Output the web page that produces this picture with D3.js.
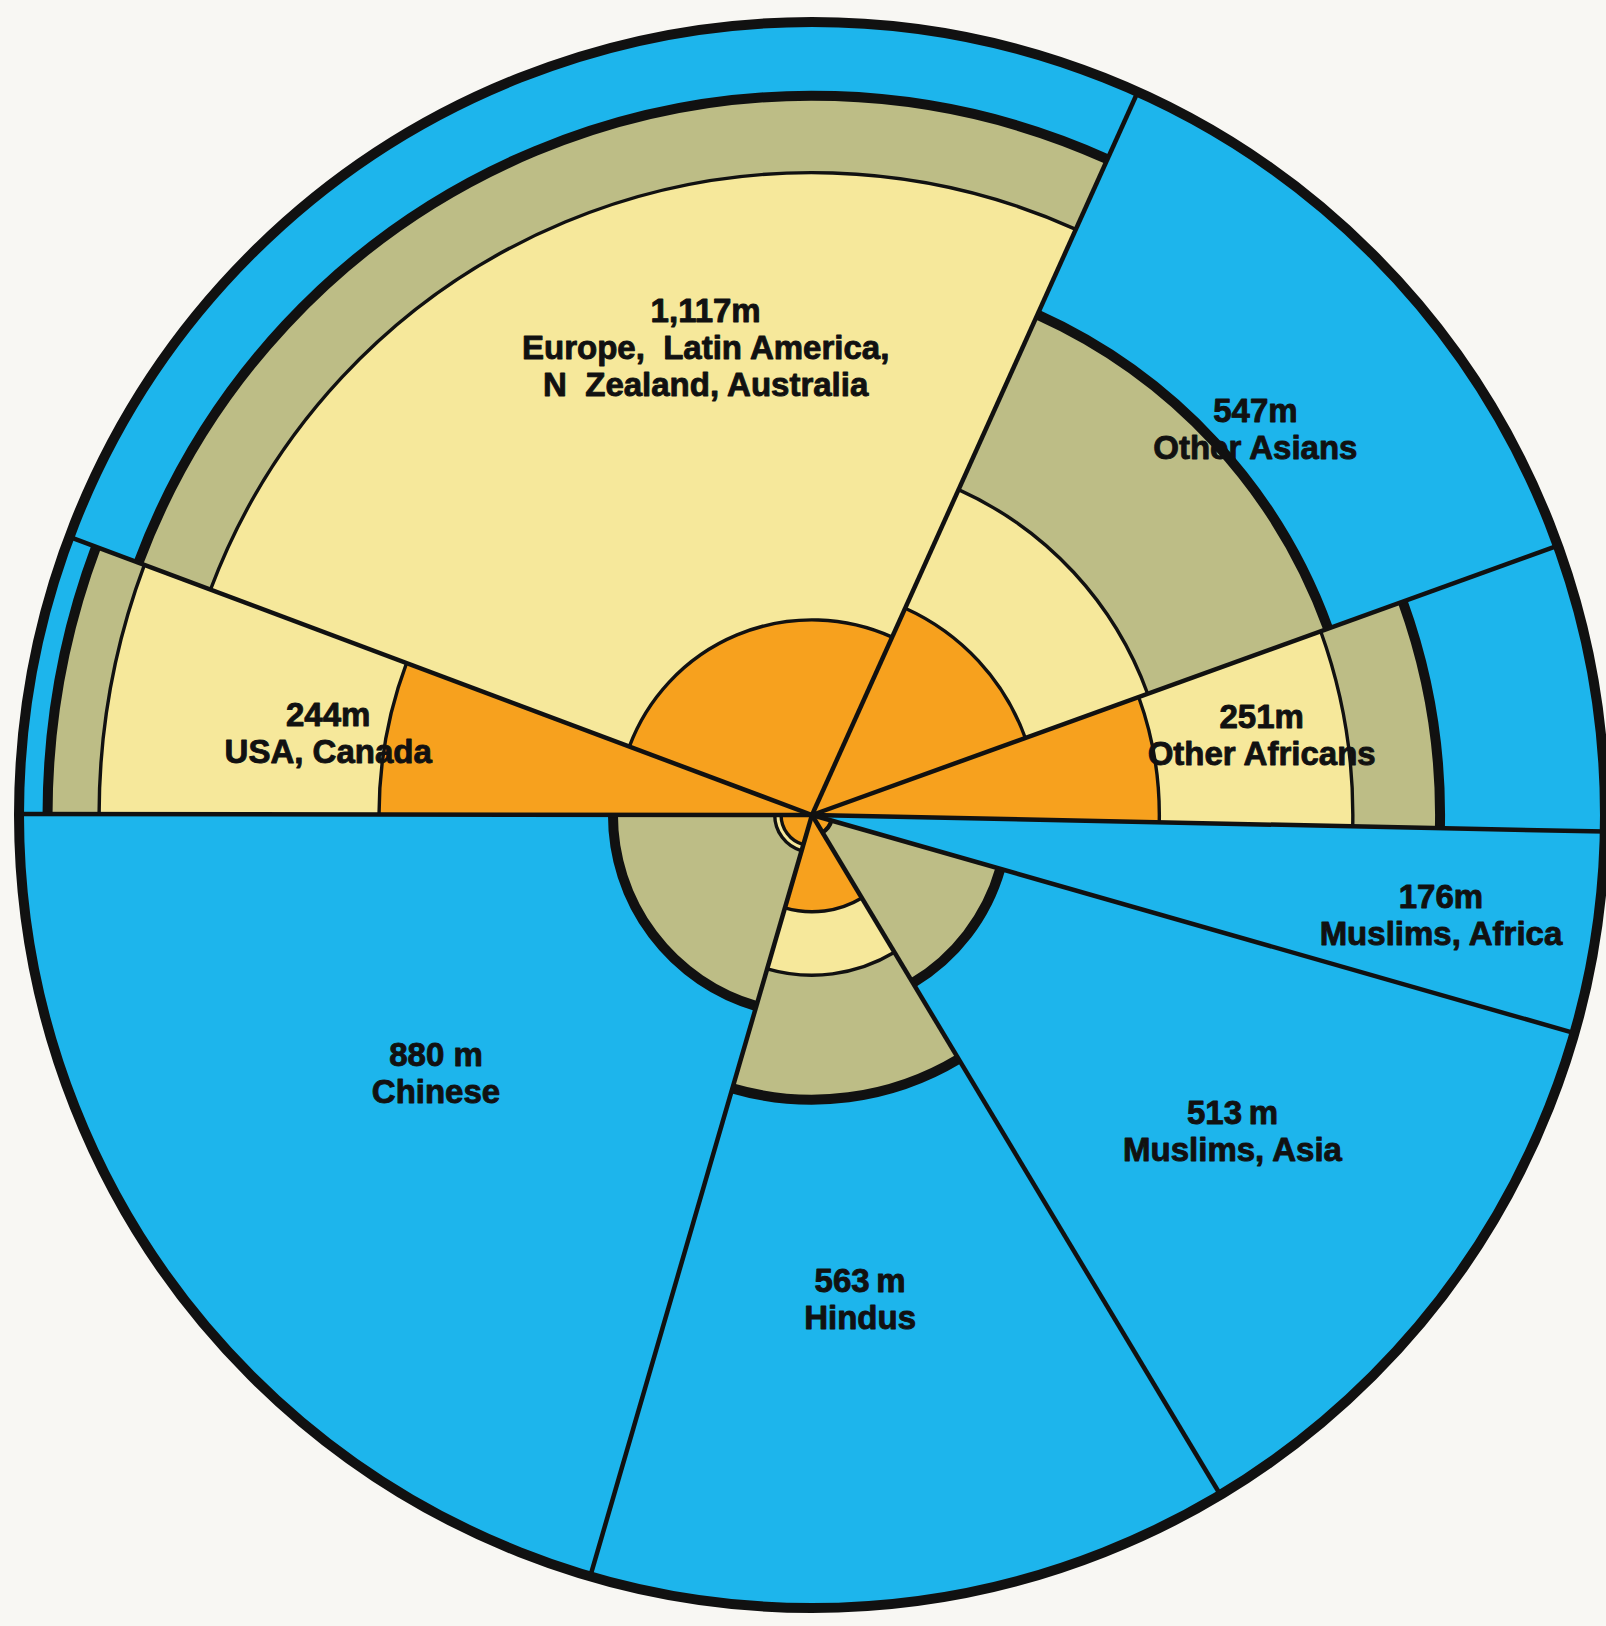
<!DOCTYPE html>
<html>
<head>
<meta charset="utf-8">
<script src="https://cdn.jsdelivr.net/npm/d3@7"></script>
<style>
  html, body { margin: 0; padding: 0; background: #f8f7f3; }
  svg { display: block; }
</style>
</head>
<body>
<svg id="chart" width="1606" height="1626"></svg>
<script>
// ---------------- DATA ----------------
// Groups in clockwise order, starting just below "east"
const groups = ["Muslims, Africa", "Muslims, Asia", "Hindus", "Chinese",
                "USA, Canada", "Europe, Latin America, N Zealand, Australia",
                "Other Asians", "Other Africans"];
// Population (millions) -> wedge angle
const population = [176, 513, 563, 880, 244, 1117, 547, 251];
// Value labels as printed
const valueLabels = ["176m", "513\u2009m", "563\u2009m", "880 m", "244m", "1,117m", "547m", "251m"];
// Name labels split into printed lines
const nameLines = [["Muslims, Africa"], ["Muslims, Asia"], ["Hindus"], ["Chinese"],
                   ["USA, Canada"], ["Europe,  Latin America,", "N  Zealand, Australia"],
                   ["Other Asians"], ["Other Africans"]];
// Outer edge of each radial band, in % of full radius (cumulative from centre)
const orangeEdge = [0, 2.5, 12.2, 3.9, 54.6, 24.6, 28.6, 43.8];
const yellowEdge = [0, 2.6, 20.2, 4.7, 89.9, 81.0, 45.0, 68.2];
const oliveEdge  = [0, 24.7, 35.9, 25.1, 96.4, 90.7, 69.2, 79.2];
// (beyond the olive edge every wedge is blue out to 100%)

// ---------------- LAYOUT / STYLE ----------------
const cx = 812, cy = 815, R = 793;
const startDeg = 91.2;
const colors = { orange: "#f7a11e", yellow: "#f6e89b", olive: "#bdbd86", blue: "#1db5ec", ink: "#111111" };
// label placement: angular nudge (deg) from wedge mid-angle, radius in % of R
const labelNudgeDeg = [0.4, -0.6, 1.7, 2.4, -0.6, 9.8, 1.7, -0.8];
const labelRadiusPct = [80.3, 66.3, 61.3, 57.5, 61.9, 60.5, 74.2, 57.6];

const toRad = d => d * Math.PI / 180;
const svg = d3.select("#chart");
svg.append("rect").attr("width", 1606).attr("height", 1626).attr("fill", "#f8f7f3");
const g = svg.append("g").attr("transform", `translate(${cx},${cy})`);

const rScale = d3.scaleLinear().domain([0, 100]).range([0, R]);

const rows = groups.map((name, i) => ({
  name, pop: population[i], value: valueLabels[i], lines: nameLines[i],
  orange: orangeEdge[i], yellow: yellowEdge[i], olive: oliveEdge[i],
  nudge: labelNudgeDeg[i], lr: labelRadiusPct[i]
}));

const pie = d3.pie().sort(null).value(d => d.pop)
  .startAngle(toRad(startDeg)).endAngle(toRad(startDeg + 360));
const slices = pie(rows);

const arc = d3.arc();

// band fills
const bandDefs = [
  { key: "orange", inner: d => 0, outer: d => d.data.orange },
  { key: "yellow", inner: d => d.data.orange, outer: d => d.data.yellow },
  { key: "olive",  inner: d => d.data.yellow, outer: d => d.data.olive },
  { key: "blue",   inner: d => d.data.olive,  outer: d => 100 }
];
bandDefs.forEach(b => {
  g.append("g").selectAll("path").data(slices.filter(d => b.outer(d) > b.inner(d))).join("path")
    .attr("d", d => arc({ startAngle: d.startAngle, endAngle: d.endAngle,
                          innerRadius: rScale(b.inner(d)), outerRadius: rScale(b.outer(d)) }))
    .attr("fill", colors[b.key])
    .attr("stroke", colors[b.key]).attr("stroke-width", 0.6);
});

// band boundary arcs
function arcLine(a0, a1, r) {
  const p = d3.path();
  const [x0, y0] = d3.pointRadial(a0, r);
  p.moveTo(x0, y0);
  p.arc(0, 0, r, a0 - Math.PI / 2, a1 - Math.PI / 2);
  return p.toString();
}
const edgeDefs = [
  { key: "orange", width: 3.4 },
  { key: "yellow", width: 3.4 },
  { key: "olive",  width: 10 }
];
edgeDefs.forEach(e => {
  g.append("g").selectAll("path").data(slices.filter(d => d.data[e.key] > 0)).join("path")
    .attr("d", d => arcLine(d.startAngle, d.endAngle, rScale(d.data[e.key])))
    .attr("fill", "none").attr("stroke", colors.ink).attr("stroke-width", e.width);
});

// radial dividers
const radial = d3.lineRadial().angle(p => p[0]).radius(p => p[1]);
g.append("g").selectAll("path").data(slices).join("path")
  .attr("d", d => radial([[d.startAngle, 0], [d.startAngle, R]]))
  .attr("fill", "none").attr("stroke", colors.ink).attr("stroke-width", 4.5);

// outer circle
g.append("circle").attr("r", R).attr("fill", "none")
  .attr("stroke", colors.ink).attr("stroke-width", 10);

// labels
const lineGap = 37, capHalf = 12;
const labels = g.append("g")
  .attr("font-family", "'Liberation Sans', Arial, Helvetica, sans-serif")
  .attr("font-weight", "bold").attr("font-size", 33)
  .attr("fill", colors.ink).attr("stroke", colors.ink).attr("stroke-width", 0.9)
  .attr("stroke-linejoin", "round")
  .attr("text-anchor", "middle");

slices.forEach(d => {
  const mid = (d.startAngle + d.endAngle) / 2 + toRad(d.data.nudge);
  const [ax, ay] = d3.pointRadial(mid, rScale(d.data.lr));
  const all = [d.data.value, ...d.data.lines];
  const n = all.length;
  const t = labels.append("text");
  all.forEach((s, i) => {
    t.append("tspan").attr("x", ax).attr("y", ay + (i - (n - 1) / 2) * lineGap + capHalf)
      .attr("xml:space", "preserve").style("white-space", "pre").text(s);
  });
});
</script>
</body>
</html>
